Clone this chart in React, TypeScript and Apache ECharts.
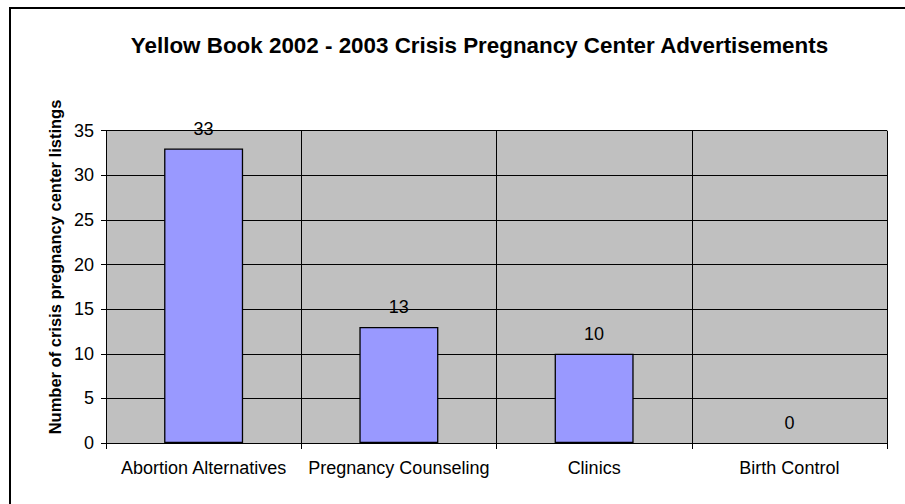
import React, { useEffect, useRef } from "react";
import * as echarts from "echarts";

const categories = ["Abortion Alternatives", "Pregnancy Counseling", "Clinics", "Birth Control"];
const listings = [33, 13, 10, 0];
const titleText = "Yellow Book 2002 - 2003 Crisis Pregnancy Center Advertisements";
const yAxisTitle = "Number of crisis pregnancy center listings";

export default function App() {
  const ref = useRef<HTMLDivElement>(null);
  useEffect(() => {
    if (!ref.current) return;
    const chart = echarts.init(ref.current, null, { renderer: "svg" });
    const font = "'Liberation Sans', Arial, sans-serif";
    chart.setOption({
      animation: false,
      backgroundColor: "#ffffff",
      textStyle: { fontFamily: font },
      title: {
        text: titleText,
        left: 474.5,
        top: 29,
        textAlign: "center",
        textStyle: { fontFamily: font, fontWeight: "bold", fontSize: 22.4, color: "#000" },
      },
      graphic: [
        {
          type: "rect",
          shape: { x: 10, y: 8, width: 1000, height: 1000 },
          style: { fill: "none", stroke: "#000", lineWidth: 2 },
          silent: true,
        },
        {
          type: "text",
          x: 55,
          y: 267,
          rotation: Math.PI / 2,
          silent: true,
          style: {
            text: yAxisTitle,
            fill: "#000",
            font: `bold 16.5px ${font}`,
            align: "center",
            verticalAlign: "middle",
          },
        },
      ],
      grid: {
        left: 106,
        right: 18,
        top: 130.7,
        bottom: 61,
        show: true,
        backgroundColor: "#C0C0C0",
        borderWidth: 0,
      },
      xAxis: {
        type: "category",
        data: categories,
        boundaryGap: true,
        axisLine: { show: true, lineStyle: { color: "#000", width: 1 } },
        axisTick: { show: true, interval: 0, length: 6, lineStyle: { color: "#000" } },
        axisLabel: { interval: 0, color: "#000", fontSize: 18, fontFamily: font, margin: 16 },
        splitLine: { show: true, interval: 0, lineStyle: { color: "#000", width: 1 } },
      },
      yAxis: {
        type: "value",
        min: 0,
        max: 35,
        interval: 5,
        axisLine: { show: true, lineStyle: { color: "#000", width: 1 } },
        axisTick: { show: true, length: 5, lineStyle: { color: "#000" } },
        axisLabel: { color: "#000", fontSize: 18, fontFamily: font, margin: 12 },
        splitLine: { show: true, lineStyle: { color: "#000", width: 1 } },
      },
      series: [
        {
          type: "bar",
          data: listings.map((v) => ({
            value: v,
            itemStyle: v === 0 ? { borderWidth: 0, color: "transparent" } : undefined,
          })),
          barWidth: 79,
          itemStyle: { color: "#9999FF", borderColor: "#000", borderWidth: 1.3 },
          label: {
            show: true,
            position: "top",
            distance: 11,
            color: "#000",
            fontSize: 18,
            fontFamily: font,
          },
        },
      ],
    });
    return () => chart.dispose();
  }, []);
  return <div ref={ref} style={{ width: 905, height: 504, position: "absolute", left: 0, top: 0 }} />;
}
